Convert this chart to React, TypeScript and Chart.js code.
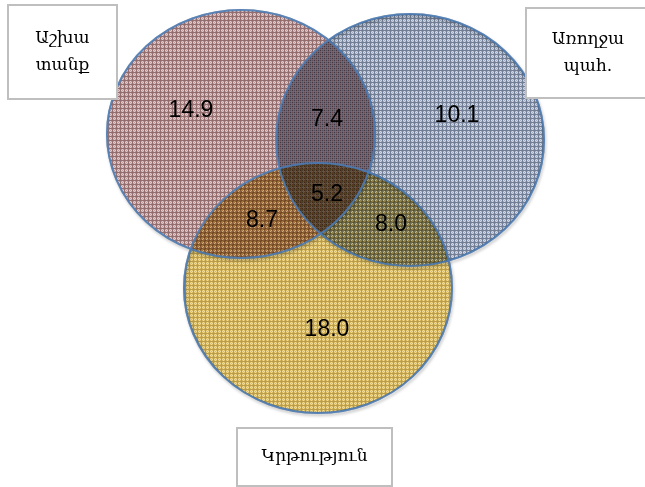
import React, { useEffect, useRef } from "react";
import { Chart, registerables } from "chart.js";

Chart.register(...registerables);

// Region values of the Venn diagram
const regionValues = [14.9, 7.4, 10.1, 5.2, 8.7, 8.0, 18.0];
const regionX = [191, 327, 457, 327, 262, 391, 327];
const regionY = [111, 120, 116, 195, 221, 225, 330];

// Sets (circles)
const setNames = [["Աշխա", "տանք"], ["Առողջա", "պահ."], ["Կրթություն"]];
const circleCX = [241, 410, 318];
const circleCY = [134, 140, 288];
const circleRX = [134, 134, 134];
const circleRY = [124, 126, 125];
const circleDark = ["#946e6e", "#66738c", "#a98624"];
const circleMid = ["#bf9b9b", "#9aa8bf", "#d4b046"];
const circleLight = ["#e0cccc", "#cdd5e2", "#ecd486"];
const circleAlpha = [1, 0.92, 0.82];
const patternShift = [0, 2, 1];

// Label boxes
const boxX = [8, 526, 237];
const boxY = [5, 8, 428];
const boxW = [109, 124, 155];
const boxH = [94, 90, 58];

function makePattern(ctx: CanvasRenderingContext2D, dark: string, mid: string, light: string, shift: number) {
  const c = document.createElement("canvas");
  c.width = 4;
  c.height = 4;
  const p = c.getContext("2d")!;
  for (let y = 0; y < 4; y++) {
    for (let x = 0; x < 4; x++) {
      let col = (x + y) % 2 === 0 ? mid : light;
      if (x === 0 || y === 0) col = dark;
      p.fillStyle = col;
      p.fillRect(x, y, 1, 1);
    }
  }
  const pat = ctx.createPattern(c, "repeat")!;
  if (shift && (pat as any).setTransform) pat.setTransform(new DOMMatrix().translate(shift, shift));
  return pat;
}

function ellipsePath(ctx: CanvasRenderingContext2D, xs: any, ys: any, i: number) {
  const cx = xs.getPixelForValue(circleCX[i]);
  const cy = ys.getPixelForValue(circleCY[i]);
  const rx = Math.abs(xs.getPixelForValue(circleCX[i] + circleRX[i]) - cx);
  const ry = Math.abs(ys.getPixelForValue(circleCY[i] + circleRY[i]) - cy);
  ctx.beginPath();
  ctx.ellipse(cx, cy, rx, ry, 0, 0, Math.PI * 2);
}

const vennPlugin = {
  id: "venn",
  beforeDatasetsDraw(chart: any) {
    const { ctx, scales } = chart;
    const xs = scales.x;
    const ys = scales.y;
    ctx.save();
    // soft shadows
    for (let i = 0; i < circleCX.length; i++) {
      ellipsePath(ctx, xs, ys, i);
      ctx.shadowColor = "rgba(0,0,0,0.45)";
      ctx.shadowBlur = 3;
      ctx.shadowOffsetX = 1;
      ctx.shadowOffsetY = 2;
      ctx.strokeStyle = "rgba(120,120,120,0.6)";
      ctx.lineWidth = 2;
      ctx.stroke();
    }
    ctx.shadowColor = "transparent";
    ctx.shadowBlur = 0;
    ctx.shadowOffsetX = 0;
    ctx.shadowOffsetY = 0;
    for (let i = 0; i < circleCX.length; i++) {
      ellipsePath(ctx, xs, ys, i);
      ctx.globalCompositeOperation = i === 0 ? "source-over" : "multiply";
      ctx.globalAlpha = circleAlpha[i];
      ctx.fillStyle = makePattern(ctx, circleDark[i], circleMid[i], circleLight[i], patternShift[i]);
      ctx.fill();
    }
    ctx.globalAlpha = 1;
    ctx.globalCompositeOperation = "source-over";
    for (let i = 0; i < circleCX.length; i++) {
      ellipsePath(ctx, xs, ys, i);
      ctx.strokeStyle = "rgba(74,126,187,0.85)";
      ctx.lineWidth = 2;
      ctx.stroke();
    }
    ctx.restore();
  },
  afterDatasetsDraw(chart: any) {
    const { ctx, scales } = chart;
    const xs = scales.x;
    const ys = scales.y;
    ctx.save();
    // region values
    const meta = chart.getDatasetMeta(0);
    ctx.fillStyle = "#000";
    ctx.font = '23px "Liberation Sans", Arial, sans-serif';
    ctx.textAlign = "center";
    ctx.textBaseline = "middle";
    meta.data.forEach((pt: any, i: number) => {
      ctx.fillText(regionValues[i].toFixed(1), pt.x, pt.y);
    });
    // boxes
    for (let i = 0; i < boxX.length; i++) {
      const x0 = xs.getPixelForValue(boxX[i]);
      const y0 = ys.getPixelForValue(boxY[i]);
      const x1 = xs.getPixelForValue(boxX[i] + boxW[i]);
      const y1 = ys.getPixelForValue(boxY[i] + boxH[i]);
      ctx.fillStyle = "#ffffff";
      ctx.fillRect(x0, y0, x1 - x0, y1 - y0);
      ctx.strokeStyle = "#bfbfbf";
      ctx.lineWidth = 2;
      ctx.strokeRect(x0, y0, x1 - x0, y1 - y0);
      const lines = setNames[i];
      const lh = 27;
      const cxp = (x0 + x1) / 2;
      const cyp = (y0 + y1) / 2;
      ctx.fillStyle = "#000";
      ctx.font = '17px "DejaVu Serif", serif';
      lines.forEach((t, j) => {
        ctx.fillText(t, cxp, cyp + (j - (lines.length - 1) / 2) * lh);
      });
    }
    ctx.restore();
  },
};

export default function App() {
  const ref = useRef<HTMLCanvasElement>(null);
  useEffect(() => {
    const chart = new Chart(ref.current!, {
      type: "scatter",
      data: {
        datasets: [
          {
            data: regionValues.map((v, i) => ({ x: regionX[i], y: regionY[i] })),
            pointRadius: 0,
            pointHoverRadius: 0,
          },
        ],
      },
      options: {
        animation: false,
        responsive: false,
        layout: { padding: 0 },
        plugins: { legend: { display: false }, tooltip: { enabled: false } },
        scales: {
          x: { type: "linear", min: 0, max: 645, display: false },
          y: { type: "linear", min: 0, max: 487, reverse: true, display: false },
        },
      },
      plugins: [vennPlugin],
    });
    return () => chart.destroy();
  }, []);
  return (
    <div style={{ position: "absolute", left: 0, top: 0, width: 645, height: 487, background: "#fff" }}>
      <canvas ref={ref} width={645} height={487} style={{ display: "block" }} />
    </div>
  );
}
